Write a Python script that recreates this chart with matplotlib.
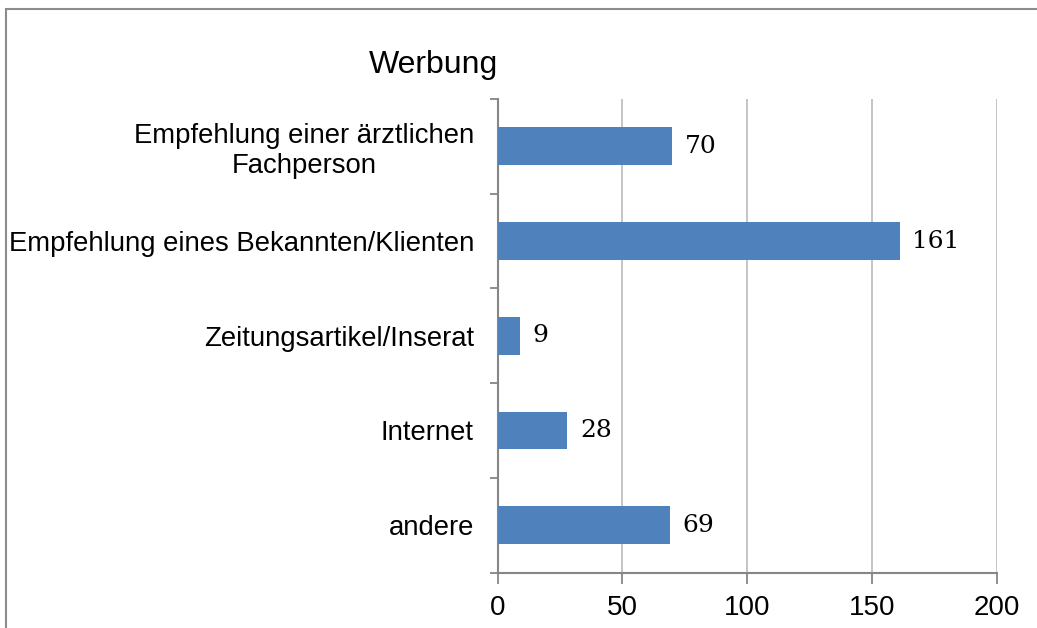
import matplotlib.pyplot as plt
from matplotlib.patches import Rectangle

categories = ['Empfehlung einer ärztlichen\nFachperson',
              'Empfehlung eines Bekannten/Klienten',
              'Zeitungsartikel/Inserat',
              'Internet',
              'andere']
values = [70, 161, 9, 28, 69]
xticks = [0, 50, 100, 150, 200]

BAR = '#4F81BD'
AXIS = '#868686'
GRID = '#BFBFBF'

plt.rcParams['font.family'] = ['Liberation Sans', 'DejaVu Sans']

fig = plt.figure(figsize=(10.37, 6.28), dpi=100)
W, H = 1037, 628
ax = fig.add_axes([497.5 / W, 1 - 572.5 / H, 499.5 / W, (572.5 - 99) / H])

pos = list(range(len(categories)))[::-1]
ax.barh(pos, values, height=0.4, color=BAR, zorder=3)
for p, v in zip(pos, values):
    ax.text(v + 5, p, str(v), va='center', ha='left', fontsize=18,
            family=['DejaVu Serif'], zorder=4)

ax.set_xlim(0, 200)
ax.set_ylim(-0.5, len(categories) - 0.5)
ax.set_xticks(xticks)
ax.set_xticklabels([str(x) for x in xticks], fontsize=20)
ax.set_yticks(pos)
ax.set_yticklabels(categories, fontsize=19.8, linespacing=1.2)
ax.set_yticks([i - 0.5 for i in range(len(categories) + 1)], minor=True)
ax.tick_params(axis='y', which='major', length=0, pad=17)
ax.tick_params(axis='y', which='minor', length=6, color=AXIS, width=1.3)
ax.tick_params(axis='x', length=8, color=AXIS, width=1.3, pad=8)
for lab in ax.get_yticklabels():
    lab.set_multialignment('center')

ax.grid(axis='x', color=GRID, linewidth=1.3, zorder=0)
for s in ['top', 'right']:
    ax.spines[s].set_visible(False)
for s in ['left', 'bottom']:
    ax.spines[s].set_color(AXIS)
    ax.spines[s].set_linewidth(1.5)

fig.text(433 / W, 1 - 65 / H, 'Werbung', ha='center', va='center', fontsize=23)

fig.patches.append(Rectangle((6 / W, -0.1), 1.2, 1 - 9 / H + 0.1,
                             transform=fig.transFigure, fill=False,
                             edgecolor='#8C8C8C', linewidth=1.5))

fig.savefig('out.png', dpi=100)
